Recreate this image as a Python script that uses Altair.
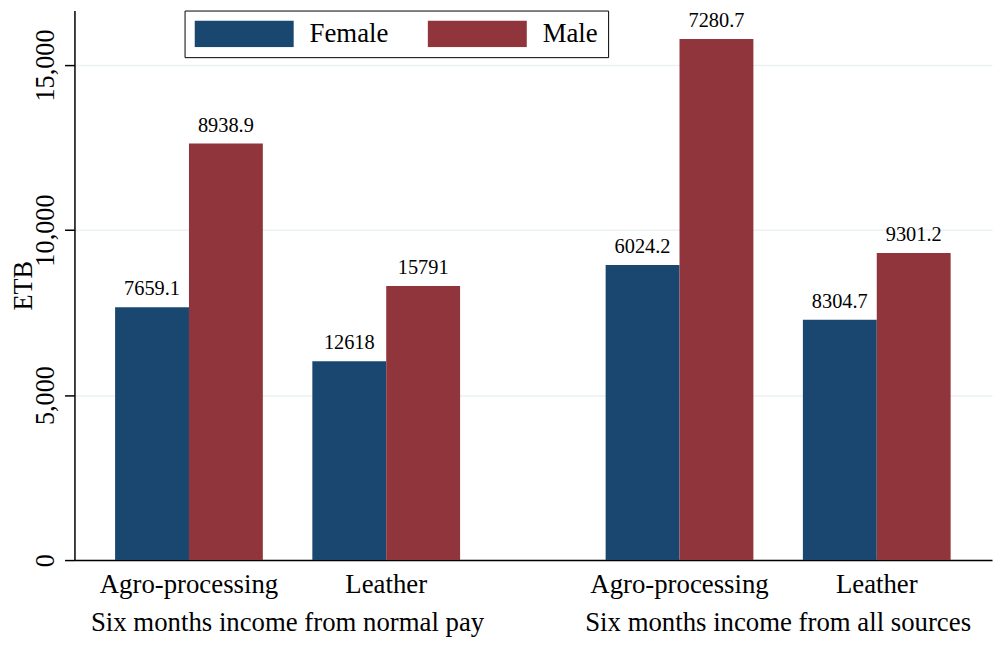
import altair as alt
import pandas as pd

# ---- data ----
groups = ["Six months income from normal pay", "Six months income from all sources"]
categories = ["Agro-processing", "Leather"]
sexes = ["Female", "Male"]
# bar heights, order: (group1, Agro), (group1, Leather), (group2, Agro), (group2, Leather)
female_values = [7659.1, 6024.2, 8938.9, 7280.7]
male_values = [12618, 8304.7, 15791, 9301.2]
# printed labels above the bars (as shown in the reference)
female_labels = ["7659.1", "12618", "6024.2", "8304.7"]
male_labels = ["8938.9", "15791", "7280.7", "9301.2"]
y_ticks = [0, 5000, 10000, 15000]

# ---- layout constants (in bar-width units) ----
MARGIN = 0.55
CAT_GAP = 0.67
GROUP_GAP = 1.97
GROUP_SPAN = 2 * 2 + CAT_GAP
X_MAX = 12.42
Y_MAX = 16650

rows = []
cat_rows = []
grp_rows = []
for g, gname in enumerate(groups):
    gstart = MARGIN + g * (GROUP_SPAN + GROUP_GAP)
    grp_rows.append({"group": gname, "center": gstart + GROUP_SPAN / 2})
    for c, cname in enumerate(categories):
        k = g * len(categories) + c
        cstart = gstart + c * (2 + CAT_GAP)
        cat_rows.append({"category": cname, "center": cstart + 1})
        for s, (sex, vals, labs) in enumerate(
            [("Female", female_values, female_labels), ("Male", male_values, male_labels)]
        ):
            rows.append({
                "group": gname, "category": cname, "sex": sex,
                "value": vals[k], "label": labs[k],
                "x0": cstart + s, "x1": cstart + s + 1, "xc": cstart + s + 0.5,
            })

df = pd.DataFrame(rows)
cats = pd.DataFrame(cat_rows)
grps = pd.DataFrame(grp_rows)

FONT = "Liberation Serif"
BIG = 27
xscale = alt.Scale(domain=[0, X_MAX], nice=False, zero=False)
yscale = alt.Scale(domain=[0, Y_MAX], nice=False)

color = alt.Color(
    "sex:N",
    scale=alt.Scale(domain=sexes, range=["#1a476f", "#90353b"]),
    legend=alt.Legend(
        title=None, orient="none", direction="horizontal",
        legendX=111, legendY=0,
        symbolType="M-1,-0.27H1V0.27H-1Z", symbolSize=10000,
        symbolStrokeWidth=0, symbolOpacity=1, clipHeight=27,
        labelFont=FONT, labelFontSize=BIG, labelColor="black",
        labelOffset=16, columnPadding=39, padding=10,
        strokeColor="black", fillColor="white",
    ),
)

bars = alt.Chart(df).mark_bar(stroke=None).encode(
    x=alt.X("x0:Q", scale=xscale,
            axis=alt.Axis(title=None, labels=False, ticks=False, grid=False,
                          domain=True, domainColor="black", domainWidth=1.5)),
    x2="x1:Q",
    y=alt.Y("value:Q", scale=yscale,
            axis=alt.Axis(title="ETB", values=y_ticks, format=",.0f",
                          grid=True, gridColor="#eaf2f3", gridWidth=1.5,
                          domain=True, domainColor="black", domainWidth=1.5,
                          ticks=True, tickColor="black", tickSize=10, tickWidth=1.5,
                          labelFont=FONT, labelFontSize=26.5, labelColor="black",
                          labelAngle=270, labelAlign="center", labelBaseline="alphabetic",
                          labelPadding=11, labelFlush=False, labelOverlap=False,
                          titleFont=FONT, titleFontSize=26.5, titleFontWeight="normal",
                          titleColor="black", titleAngle=270, titleAlign="center",
                          titleBaseline="alphabetic", titleX=-43, titleY=277)),
    y2=alt.Y2(datum=0),
    color=color,
)

value_labels = alt.Chart(df).mark_text(
    font=FONT, fontSize=20.5, color="black", baseline="alphabetic", dy=-12
).encode(
    x=alt.X("xc:Q", scale=xscale),
    y=alt.Y("value:Q", scale=yscale),
    text="label:N",
)

cat_labels = alt.Chart(cats).mark_text(
    font=FONT, fontSize=BIG, color="black", baseline="alphabetic"
).encode(
    x=alt.X("center:Q", scale=xscale),
    y=alt.value(587),
    text="category:N",
)

grp_labels = alt.Chart(grps).mark_text(
    font=FONT, fontSize=BIG, color="black", baseline="alphabetic"
).encode(
    x=alt.X("center:Q", scale=xscale),
    y=alt.value(625),
    text="group:N",
)

chart = alt.layer(bars, value_labels, cat_labels, grp_labels).properties(
    width=925, height=554,
    autosize=alt.AutoSizeParams(type="none"),
    padding={"left": 67, "top": 0, "right": 1, "bottom": 76},
    background="white",
).configure_view(stroke=None)

chart.save("out.html", embed_options={"renderer": "svg", "actions": False})
